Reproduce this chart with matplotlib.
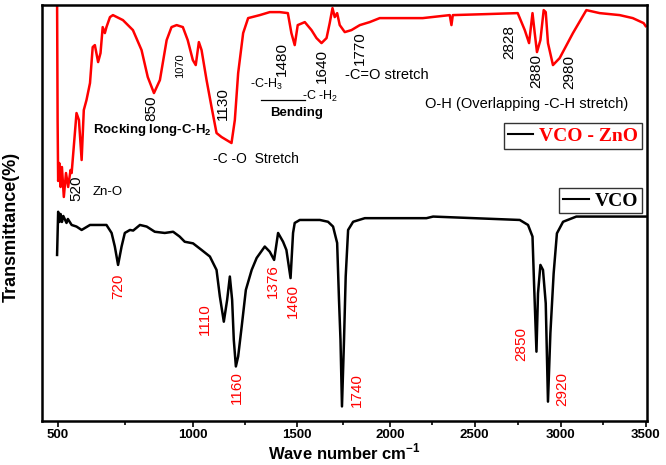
import numpy as np
import matplotlib
matplotlib.use("Agg")
import matplotlib.pyplot as plt
from matplotlib.lines import Line2D

plt.rcParams["font.family"] = ["Liberation Sans", "DejaVu Sans"]
plt.rcParams["mathtext.fontset"] = "custom"
plt.rcParams["mathtext.rm"] = "Liberation Sans"
plt.rcParams["mathtext.bf"] = "Liberation Sans:bold"

# ---- spectra (wavenumber cm-1, transmittance a.u.) ----
zno_wn = [497, 499, 501, 505, 510, 515, 522, 530, 538, 547, 551, 569, 578, 588,
          596, 606, 619, 629, 637, 649, 658, 666, 674, 680, 693, 704, 741, 778,
          810, 833, 856, 878, 903, 921, 940, 963, 981, 1000, 1014, 1029, 1042,
          1066, 1090, 1114, 1138, 1162, 1186, 1202, 1218, 1242, 1266, 1322, 1370,
          1418, 1457, 1474, 1490, 1505, 1543, 1579, 1606, 1633, 1660, 1677, 1692,
          1704, 1717, 1731, 1758, 1794, 1839, 1892, 1946, 2039, 2194, 2353, 2363,
          2371, 2568, 2750, 2791, 2816, 2836, 2849, 2862, 2882, 2901, 2913, 2926,
          2955, 2994, 3072, 3151, 3229, 3347, 3424, 3488, 3500]
zno_t = [106, 75, 60, 64.5, 58.5, 63.5, 56, 62, 58.5, 62.75, 62, 77, 75.25, 65.25,
         77.75, 80.25, 84.5, 93.5, 94, 89.75, 92, 98.5, 97, 98.5, 101, 101.5, 100.25,
         97.75, 92.75, 86, 82, 85.25, 95.25, 98.5, 99, 98.5, 95.25, 90.25, 89,
         94.75, 92.75, 85.25, 78.5, 72, 71, 70.25, 69.5, 75.25, 87, 97, 100.75,
         101.5, 102.25, 102.25, 102, 97, 94, 99, 99.75, 97.75, 95.75, 94.5, 95.75,
         99.5, 103.25, 101, 102, 99, 97.25, 97.75, 99, 99.75, 100.75, 100.75,
         100.75, 101.5, 99, 101.5, 101.75, 102, 97.75, 94.5, 102, 97, 92.25, 95.25,
         102.75, 102.25, 94.5, 89, 90.75, 97, 102.75, 102, 101.5, 100.75, 99.5, 98.75]

vco_wn = [497, 501, 506, 510, 515, 520, 532, 537, 551, 569, 588, 619, 680, 699,
          711, 723, 736, 748, 767, 779, 804, 829, 859, 896, 927, 951, 970, 1001,
          1042, 1082, 1114, 1130, 1149, 1165, 1178, 1189, 1197, 1207, 1218, 1235,
          1255, 1283, 1307, 1346, 1370, 1391, 1410, 1434, 1450, 1470, 1482, 1490,
          1516, 1624, 1668, 1695, 1717, 1727, 1735, 1743, 1754, 1763, 1776, 1803,
          1866, 2216, 2255, 2762, 2810, 2836, 2845, 2859, 2868, 2882, 2897, 2913,
          2926, 2940, 2959, 2978, 3014, 3092, 3500]
vco_t = [41.5, 52.3, 49.75, 51.75, 49.75, 51.25, 49.5, 50.5, 49, 48.6, 47.75, 49,
         49, 47, 43.6, 39, 43.6, 47, 47.75, 47.6, 49, 48.6, 47.3, 47, 47.3, 46.1,
         44.8, 44.4, 42.75, 41.1, 37.75, 31.1, 24.8, 30.25, 36.1, 30.25, 20.25,
         13.6, 16.1, 23.6, 32.75, 37.75, 40.75, 43.6, 42.3, 40.25, 47, 44.8, 42.75,
         35.7, 47, 49.5, 50.25, 50.25, 49.8, 48.6, 44.5, 30.25, 20.25, 3.6, 20.25,
         36.1, 47.75, 49.8, 50.7, 50.7, 51.1, 50.25, 49, 46.1, 34.4, 17.3, 31.9, 39,
         37.75, 29.4, 4.8, 21.9, 36.9, 46.9, 49.8, 51.1, 51.1]

# peak labels: (text, wavenumber, transmittance)
zno_peaks = [("520", 570, 58.25), ("850", 846, 78.25), ("1130", 1144, 79.25),
             ("1480", 1428, 90.5), ("1640", 1634, 88.75), ("1770", 1839, 93.25),
             ("2828", 2703, 94.75), ("2880", 2855, 87.5), ("2980", 3053, 87.25)]
vco_peaks = [("720", 722, 33.75), ("1110", 1058, 25.5), ("1160", 1212, 8.25),
             ("1376", 1385, 35), ("1460", 1481, 30), ("1740", 1823, 7.75),
             ("2850", 2773, 19.25), ("2920", 3012, 8)]

# the original wavenumber axis is stretched at low wavenumbers
tick_wn = [500, 1000, 1500, 2000, 2500, 3000, 3500]
knot_wn = np.array([0] + tick_wn + [5000], dtype=float)
knot_pos = np.array([-135, 0, 135, 239, 332, 417, 503, 588, 843], dtype=float)


def fwd(x):
    return np.interp(x, knot_wn, knot_pos)


def inv(p):
    return np.interp(p, knot_pos, knot_wn)


fig = plt.figure(figsize=(6.66, 4.65), dpi=100)
ax = fig.add_axes([0.063, 0.095, 0.908, 0.894])
ax.set_xscale("function", functions=(fwd, inv))

ax.plot(zno_wn, zno_t, color="red", lw=1.8)
ax.plot(vco_wn, vco_t, color="black", lw=1.8)

ax.set_xlim(441, 3506)
ax.set_ylim(0, 104)
ax.set_xticks(tick_wn)
ax.set_xticks([750, 1250, 1750, 2250, 2750, 3250], minor=True)
ax.set_xticklabels([str(t) for t in tick_wn], fontweight="bold", fontsize=9.5)
ax.set_yticks([])
ax.tick_params(axis="x", which="major", direction="out", length=4, width=1.2, pad=2)
ax.tick_params(axis="x", which="minor", direction="out", length=3, width=1.2)
for s in ax.spines.values():
    s.set_linewidth(1.8)

ax.set_xlabel("Wave number cm$^{\\mathregular{-1}}$", fontweight="bold", fontsize=12)
ax.xaxis.set_label_coords(0.5, -0.05)
ax.set_ylabel("Transmittance(%)", fontweight="bold", fontsize=13)
ax.yaxis.set_label_coords(-0.036, 0.466)

for txt, x, y in zno_peaks:
    ax.text(x, y, txt, rotation=90, ha="center", va="center", fontsize=11, color="black")
ax.text(952, 88.75, "1070", rotation=90, ha="center", va="center", fontsize=8)
for txt, x, y in vco_peaks:
    ax.text(x, y, txt, rotation=90, ha="center", va="center", fontsize=11, color="red")

# band assignments
ax.text(630, 57.25, "Zn-O", fontsize=9.5, va="center")
ax.text(630, 72.75, "Rocking long-C-H$_\\mathregular{2}$", fontsize=9.5, fontweight="bold", va="center")
ax.text(1096, 65.5, "-C -O  Stretch", fontsize=10, va="center")
ax.text(1274, 84.25, "-C-H$_\\mathregular{3}$", fontsize=9, va="center")
ax.text(1527, 81.25, "-C -H$_\\mathregular{2}$", fontsize=9, va="center")
ax.plot([1327, 1543], [80.25, 80.25], color="black", lw=0.9)
ax.text(1371, 77, "Bending", fontsize=9.5, fontweight="bold", va="center")
ax.text(1758, 86.5, "-C=O stretch", fontsize=10.5, va="center")
ax.text(2206, 79.25, "O-H (Overlapping -C-H stretch)", fontsize=10.5, va="center")

legend_font = {"family": "Liberation Serif", "weight": "bold", "size": 14}
leg1 = ax.legend([Line2D([], [], color="black", lw=1.5)], ["VCO - ZnO"],
                 loc="upper right", bbox_to_anchor=(0.992, 0.716), prop=legend_font,
                 labelcolor="red", fancybox=False, edgecolor="black",
                 handlelength=1.3, handletextpad=0.3, borderpad=0.2, borderaxespad=0)
leg1.get_frame().set_linewidth(1)
ax.add_artist(leg1)
leg2 = ax.legend([Line2D([], [], color="black", lw=1.5)], ["VCO"],
                 loc="upper right", bbox_to_anchor=(0.992, 0.560), prop=legend_font,
                 labelcolor="black", fancybox=False, edgecolor="black",
                 handlelength=1.3, handletextpad=0.3, borderpad=0.2, borderaxespad=0)
leg2.get_frame().set_linewidth(1)

fig.savefig("out.png", dpi=100)
